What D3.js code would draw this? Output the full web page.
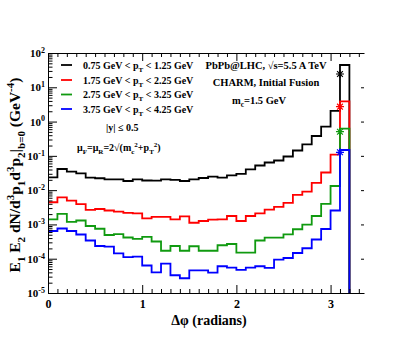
<!DOCTYPE html>
<html><head><meta charset="utf-8">
<script src="https://cdn.jsdelivr.net/npm/d3@7/dist/d3.min.js"></script>
<style>
body{margin:0;background:#fff}
svg{display:block}
text{font-family:"Liberation Serif","DejaVu Serif",serif;font-weight:bold;fill:#000}
</style>
</head><body>
<svg id="c" width="415" height="346"></svg>
<script>
// ---- data ----
const phiLow = [0,0.1,0.2,0.3,0.4,0.5,0.6,0.7,0.8,0.9,1.0,1.1,1.2,1.3,1.4,1.5,1.6,1.7,1.8,1.9,2.0,2.1,2.2,2.3,2.4,2.5,2.6,2.7,2.8,2.9,3.0,3.1];
const binWidth = 0.1;
const pt1 = [0.0237,0.0414,0.0345,0.0310,0.0231,0.0222,0.0207,0.0207,0.0185,0.0205,0.0191,0.0189,0.0207,0.0198,0.0185,0.0207,0.0226,0.0247,0.0231,0.0271,0.0300,0.0406,0.0524,0.0641,0.0733,0.0959,0.1435,0.215,0.379,0.71,2.04,44.7];
const pt2 = [0.00443,0.00619,0.00493,0.00390,0.00264,0.00282,0.00255,0.00235,0.00216,0.00211,0.00151,0.00165,0.00165,0.00141,0.00171,0.00112,0.00126,0.00138,0.00141,0.00176,0.00126,0.00176,0.00211,0.00269,0.00323,0.00423,0.00723,0.00902,0.0164,0.0327,0.108,3.90];
const pt3 = [0.00141,0.00202,0.00118,0.00130,0.000901,0.000747,0.000492,0.000520,0.000416,0.000377,0.000431,0.000318,0.000171,0.000235,0.000171,0.000231,0.000171,0.000171,0.000247,0.000269,0.000150,0.000150,0.000340,0.000411,0.000411,0.000516,0.000723,0.000984,0.00176,0.00395,0.0132,0.620];
const pt4 = [0.000644,0.000762,0.000644,0.000509,0.000340,0.000235,0.000224,0.000144,0.000112,0.000115,0.0000635,0.0000397,0.0000716,0.0000329,0.0000269,0.0000460,0.0000460,0.0000392,0.0000603,0.0000548,0.0000470,0.0000548,0.0000603,0.0000537,0.0000938,0.000105,0.000147,0.000202,0.000364,0.000736,0.00255,0.148];
const seriesLow = ["0.75","1.75","2.75","3.75"];
const seriesHigh = ["1.25","2.25","3.25","4.25"];
const seriesColors = ["#000000","#ff0000","#109a10","#0000ff"];
const starPhi = 3.1;
const starValues = [24.4, 2.72, 0.507, 0.127];
const xTicks = [0,1,2,3];
const xMinor = [0.1,0.2,0.3,0.4,0.5,0.6,0.7,0.8,0.9,1.1,1.2,1.3,1.4,1.5,1.6,1.7,1.8,1.9,2.1,2.2,2.3,2.4,2.5,2.6,2.7,2.8,2.9,3.1,3.2,3.3];
const yTickExp = [2,1,0,-1,-2,-3,-4,-5];

// ---- layout ----
const L = 48, R = 364, T = 53, B = 293;
const svg = d3.select("#c");
const x = d3.scaleLinear().domain([0, 3.355]).range([L, R]);
const y = d3.scaleLog().domain([1e-5, 1e2]).range([B, T]);
const decades = yTickExp.map(e => Math.pow(10, e));
const yMinor = y.ticks().filter(v => !decades.some(d => Math.abs(v/d - 1) < 1e-6));

function rich(sel, parts, big, small) {
  let shift = 0;
  parts.forEach(([s, t]) => {
    const ts = sel.append("tspan").text(s);
    let target = t === "sub" ? big*0.3 : t === "sup" ? -big*0.38 : 0;
    ts.attr("dy", target - shift).style("font-size", (t === "n" ? big : small) + "px");
    shift = target;
  });
}

// ---- histograms ----
const series = [pt1, pt2, pt3, pt4];
const line = d3.line().curve(d3.curveStepAfter);
series.forEach((vals, k) => {
  const pts = vals.map((v, i) => [x(phiLow[i]), y(v)]);
  const last = phiLow[phiLow.length-1] + binWidth;
  pts.push([x(last), y(vals[vals.length-1])]);
  pts.push([x(last), y(1e-5)]);
  svg.append("path").attr("d", line(pts)).attr("fill","none")
    .attr("stroke", seriesColors[k]).attr("stroke-width", 1.8);
});

// ---- stars ----
starValues.forEach((v, k) => {
  const cx = x(starPhi), cy = y(v), s = 4, d = s*0.72;
  svg.append("path")
    .attr("d", `M${cx-s},${cy}H${cx+s}M${cx},${cy-s}V${cy+s}M${cx-d},${cy-d}L${cx+d},${cy+d}M${cx-d},${cy+d}L${cx+d},${cy-d}`)
    .attr("stroke", seriesColors[k]).attr("stroke-width", 1.2).attr("fill","none");
});

// ---- axes ----
const gx = svg.append("g").attr("transform", `translate(0,${B})`)
  .call(d3.axisBottom(x).tickValues(xTicks).tickSize(-8).tickSizeOuter(0).tickPadding(6).tickFormat(d3.format("d")));
gx.selectAll("text").style("font-size","12px").attr("font-family",null);
svg.append("g").attr("transform", `translate(0,${B})`)
  .call(d3.axisBottom(x).tickValues(xMinor).tickSize(-4).tickFormat(""))
  .select(".domain").remove();
svg.append("g").attr("transform", `translate(0,${T})`)
  .call(d3.axisTop(x).tickValues(xTicks).tickSize(-8).tickSizeOuter(0).tickFormat(""));
svg.append("g").attr("transform", `translate(0,${T})`)
  .call(d3.axisTop(x).tickValues(xMinor).tickSize(-4).tickFormat(""))
  .select(".domain").remove();

const gy = svg.append("g").attr("transform", `translate(${L},0)`)
  .call(d3.axisLeft(y).tickValues(decades).tickSize(-9).tickSizeOuter(0).tickFormat(""));
svg.append("g").attr("transform", `translate(${L},0)`)
  .call(d3.axisLeft(y).tickValues(yMinor).tickSize(-4.5).tickFormat(""))
  .select(".domain").remove();
svg.append("g").attr("transform", `translate(${R},0)`)
  .call(d3.axisRight(y).tickValues(decades).tickSize(-3).tickFormat(""))
  .select(".domain").remove();
svg.selectAll(".tick line").attr("stroke","#000");
svg.selectAll(".domain").attr("stroke","#000");

yTickExp.forEach(e => {
  const t = svg.append("text").attr("x", L-3).attr("y", y(Math.pow(10,e)) + 4)
    .attr("text-anchor","end");
  rich(t, [["10","n"],[String(e),"sup"]], 11, 8);
});

// ---- axis titles ----
svg.append("text").attr("x", (L+R)/2 + 3).attr("y", 325).attr("text-anchor","middle")
  .style("font-size","14px").text("Δφ (radians)");

const yt = svg.append("text").attr("transform","translate(20,175) rotate(-90)").attr("text-anchor","middle");
rich(yt, [["E","n"],["1","sub"],[" E","n"],["2","sub"],[" dN/d","n"],["3","sup"],["p","n"],["1","sub"],["d","n"],["3","sup"],["p","n"],["2","sub"],["|","n"],["b=0","sub"],[" (GeV","n"],["-4","sup"],[")","n"]], 15.5, 11);

// ---- legend ----
const legY = [65, 80, 94.5, 109];
seriesColors.forEach((c, k) => {
  svg.append("line").attr("x1", 61).attr("x2", 72).attr("y1", legY[k]).attr("y2", legY[k])
    .attr("stroke", c).attr("stroke-width", 1.8);
  const t = svg.append("text").attr("x", 83).attr("y", legY[k] + 3.5);
  rich(t, [[seriesLow[k] + " GeV < p","n"],["T","sub"],[" < " + seriesHigh[k] + " GeV","n"]], 10, 7);
});
svg.append("text").attr("x", 106).attr("y", 131).style("font-size","10px").text("|y| ≤ 0.5");
const mu = svg.append("text").attr("x", 77).attr("y", 151);
rich(mu, [["μ","n"],["F","sub"],["=μ","n"],["R","sub"],["=2√(m","n"],["c","sub"],["2","sup"],["+p","n"],["T","sub"],["2","sup"],[")","n"]], 10, 7);

// ---- annotations ----
svg.append("text").attr("x", 266).attr("y", 69).attr("text-anchor","middle").style("font-size","10.5px").text("PbPb@LHC, √s=5.5 A TeV");
svg.append("text").attr("x", 266).attr("y", 86).attr("text-anchor","middle").style("font-size","10.5px").text("CHARM, Initial Fusion");
const mc = svg.append("text").attr("x", 259).attr("y", 104).attr("text-anchor","middle");
rich(mc, [["m","n"],["c","sub"],["=1.5 GeV","n"]], 10.5, 7.5);
</script>
</body></html>
